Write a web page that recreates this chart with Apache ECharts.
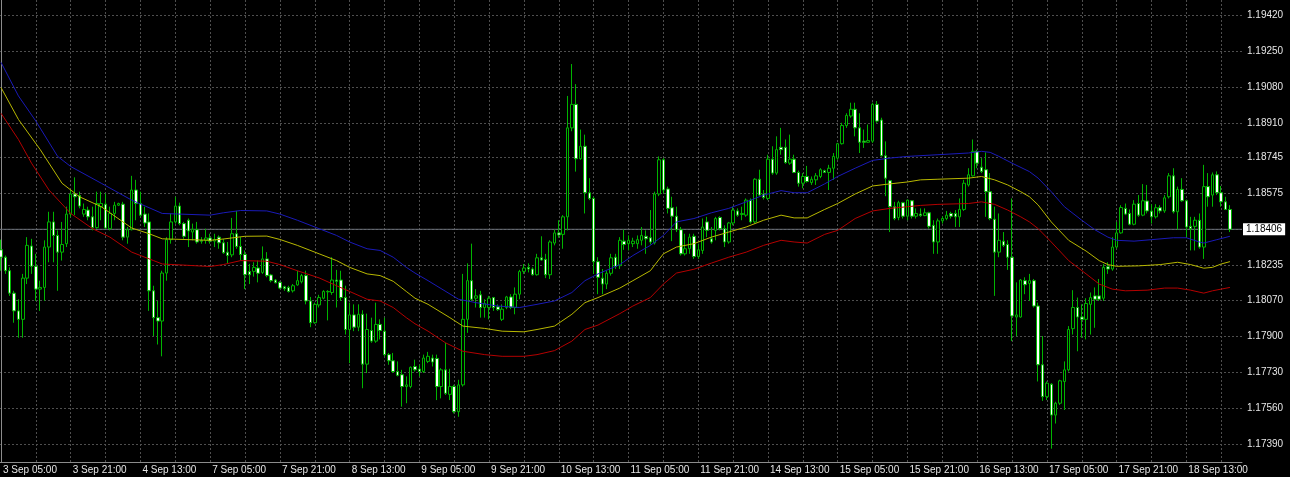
<!DOCTYPE html>
<html><head><meta charset="utf-8">
<script src="https://cdn.jsdelivr.net/npm/echarts@6/dist/echarts.min.js"></script>
<style>html,body{margin:0;padding:0;background:#000;} #chart{width:1290px;height:477px;}</style>
</head><body><div id="chart"></div>
<script>
// ---- data ----
const tickLabels = ["3 Sep 05:00","3 Sep 21:00","4 Sep 13:00","7 Sep 05:00","7 Sep 21:00","8 Sep 13:00","9 Sep 05:00","9 Sep 21:00","10 Sep 13:00","11 Sep 05:00","11 Sep 21:00","14 Sep 13:00","15 Sep 05:00","15 Sep 21:00","16 Sep 13:00","17 Sep 05:00","17 Sep 21:00","18 Sep 13:00"];
const yLabelValues = [1.17390,1.17560,1.17730,1.17900,1.18070,1.18235,1.18575,1.18745,1.18910,1.19080,1.19250,1.19420];
const yGridValues = [1.17390,1.17560,1.17730,1.17900,1.18070,1.18235,1.18405,1.18575,1.18745,1.18910,1.19080,1.19250,1.19420];
const lastPrice = 1.18406;
// [open, close, low, high] per H1 bar, 3 Sep 05:00 .. 18 Sep 23:00
const ohlc = [
[1.18309,1.18274,1.18210,1.18357],[1.18274,1.18210,1.18195,1.18282],[1.18210,1.18104,1.18091,1.18226],[1.18104,1.18020,1.17964,1.18115],[1.18020,1.17980,1.17893,1.18075],
[1.17980,1.18175,1.17893,1.18195],[1.18175,1.18330,1.18147,1.18369],[1.18327,1.18231,1.18195,1.18361],[1.18231,1.18123,1.18067,1.18290],[1.18123,1.18131,1.18020,1.18163],
[1.18131,1.18322,1.18067,1.18354],[1.18322,1.18441,1.18250,1.18489],[1.18441,1.18377,1.18250,1.18489],[1.18377,1.18298,1.18115,1.18401],[1.18298,1.18334,1.18258,1.18441],
[1.18338,1.18478,1.18322,1.18513],[1.18478,1.18573,1.18465,1.18592],[1.18573,1.18560,1.18473,1.18652],[1.18566,1.18516,1.18505,1.18584],[1.18478,1.18500,1.18465,1.18528],
[1.18497,1.18465,1.18449,1.18513],[1.18465,1.18414,1.18401,1.18513],[1.18414,1.18528,1.18409,1.18584],[1.18513,1.18528,1.18449,1.18584],[1.18525,1.18412,1.18409,1.18576],
[1.18409,1.18481,1.18401,1.18513],[1.18481,1.18520,1.18449,1.18536],[1.18520,1.18528,1.18516,1.18532],[1.18525,1.18369,1.18354,1.18536],[1.18369,1.18404,1.18338,1.18417],
[1.18404,1.18592,1.18401,1.18659],[1.18592,1.18528,1.18449,1.18640],[1.18528,1.18473,1.18465,1.18584],[1.18478,1.18436,1.18417,1.18513],[1.18441,1.18115,1.18020,1.18481],
[1.18115,1.17988,1.17901,1.18139],[1.17988,1.17972,1.17861,1.18067],[1.17972,1.18199,1.17805,1.18210],[1.18199,1.18357,1.18163,1.18369],[1.18357,1.18441,1.18338,1.18481],
[1.18441,1.18516,1.18433,1.18560],[1.18516,1.18433,1.18425,1.18532],[1.18433,1.18373,1.18361,1.18441],[1.18449,1.18398,1.18322,1.18457],[1.18393,1.18406,1.18354,1.18433],
[1.18404,1.18346,1.18338,1.18441],[1.18354,1.18350,1.18338,1.18369],[1.18354,1.18365,1.18338,1.18409],[1.18365,1.18350,1.18338,1.18385],[1.18350,1.18358,1.18322,1.18385],
[1.18369,1.18342,1.18314,1.18377],[1.18342,1.18295,1.18290,1.18361],[1.18298,1.18282,1.18245,1.18346],[1.18285,1.18385,1.18274,1.18460],[1.18385,1.18325,1.18314,1.18493],
[1.18325,1.18287,1.18258,1.18369],[1.18287,1.18191,1.18123,1.18306],[1.18206,1.18191,1.18147,1.18242],[1.18207,1.18226,1.18182,1.18250],[1.18223,1.18198,1.18155,1.18258],
[1.18202,1.18266,1.18195,1.18325],[1.18266,1.18187,1.18179,1.18298],[1.18190,1.18163,1.18155,1.18195],[1.18166,1.18153,1.18150,1.18171],[1.18155,1.18128,1.18123,1.18160],
[1.18134,1.18125,1.18115,1.18139],[1.18131,1.18112,1.18107,1.18139],[1.18115,1.18139,1.18107,1.18147],[1.18143,1.18163,1.18139,1.18210],[1.18158,1.18187,1.18150,1.18195],
[1.18187,1.18067,1.18051,1.18210],[1.18067,1.17964,1.17943,1.18086],[1.17964,1.18051,1.17959,1.18059],[1.18048,1.18083,1.18036,1.18096],[1.18080,1.18112,1.18075,1.18118],
[1.18112,1.18110,1.17975,1.18118],[1.18107,1.18166,1.18096,1.18274],[1.18166,1.18160,1.18036,1.18214],[1.18166,1.18083,1.18067,1.18210],[1.18083,1.17932,1.17908,1.18139],
[1.17932,1.18001,1.17773,1.18059],[1.18001,1.17943,1.17924,1.18051],[1.17943,1.18004,1.17924,1.18051],[1.18004,1.17768,1.17654,1.18023],[1.17768,1.17932,1.17726,1.18007],
[1.17927,1.17877,1.17869,1.17988],[1.17877,1.17956,1.17869,1.18059],[1.17956,1.17927,1.17885,1.17980],[1.17924,1.17813,1.17805,1.17988],[1.17813,1.17784,1.17765,1.17821],
[1.17784,1.17733,1.17726,1.17821],[1.17733,1.17715,1.17710,1.17781],[1.17718,1.17662,1.17567,1.17741],[1.17662,1.17670,1.17583,1.17710],[1.17662,1.17753,1.17654,1.17757],
[1.17757,1.17741,1.17733,1.17789],[1.17745,1.17733,1.17710,1.17765],[1.17733,1.17797,1.17726,1.17813],[1.17781,1.17805,1.17773,1.17826],[1.17797,1.17778,1.17757,1.17813],
[1.17795,1.17662,1.17598,1.17813],[1.17662,1.17741,1.17606,1.17749],[1.17741,1.17630,1.17622,1.17869],[1.17625,1.17662,1.17598,1.17746],[1.17662,1.17543,1.17535,1.17670],
[1.17543,1.17670,1.17519,1.17694],[1.17670,1.17980,1.17662,1.18195],[1.17980,1.18163,1.17916,1.18245],[1.18163,1.18075,1.18067,1.18338],[1.18080,1.18091,1.18036,1.18123],
[1.18096,1.18036,1.17988,1.18115],[1.18036,1.18055,1.17988,1.18075],[1.18036,1.18080,1.17980,1.18091],[1.18083,1.18036,1.18020,1.18086],[1.18039,1.18026,1.18020,1.18051],
[1.17980,1.18028,1.17972,1.18051],[1.18036,1.18086,1.18028,1.18091],[1.18086,1.18036,1.18028,1.18099],[1.18036,1.18099,1.18004,1.18131],[1.18099,1.18206,1.18075,1.18214],
[1.18207,1.18223,1.18195,1.18242],[1.18226,1.18218,1.18202,1.18245],[1.18218,1.18191,1.18187,1.18226],[1.18191,1.18271,1.18187,1.18290],[1.18271,1.18261,1.18258,1.18373],
[1.18264,1.18191,1.18175,1.18290],[1.18191,1.18346,1.18171,1.18354],[1.18341,1.18389,1.18330,1.18404],[1.18389,1.18379,1.18366,1.18449],[1.18382,1.18465,1.18314,1.18473],
[1.18465,1.18886,1.18401,1.19037],[1.18886,1.18997,1.18870,1.19188],[1.18997,1.18740,1.18679,1.19093],[1.18740,1.18799,1.18735,1.18878],[1.18799,1.18579,1.18481,1.18854],
[1.18579,1.18552,1.18544,1.18648],[1.18552,1.18253,1.18195,1.18560],[1.18253,1.18179,1.18099,1.18274],[1.18175,1.18147,1.18099,1.18218],[1.18147,1.18198,1.18123,1.18210],
[1.18198,1.18271,1.18187,1.18290],[1.18274,1.18230,1.18218,1.18290],[1.18234,1.18354,1.18218,1.18369],[1.18350,1.18334,1.18309,1.18404],[1.18338,1.18354,1.18306,1.18377],
[1.18338,1.18350,1.18322,1.18366],[1.18338,1.18357,1.18314,1.18377],[1.18354,1.18377,1.18330,1.18417],[1.18373,1.18361,1.18290,1.18401],[1.18366,1.18346,1.18334,1.18497],
[1.18342,1.18573,1.18334,1.18584],[1.18573,1.18735,1.18563,1.18751],[1.18735,1.18592,1.18576,1.18743],[1.18597,1.18505,1.18481,1.18608],[1.18508,1.18468,1.18350,1.18560],
[1.18468,1.18404,1.18393,1.18513],[1.18404,1.18290,1.18282,1.18417],[1.18290,1.18314,1.18282,1.18385],[1.18314,1.18369,1.18290,1.18385],[1.18373,1.18277,1.18266,1.18385],
[1.18277,1.18309,1.18266,1.18338],[1.18306,1.18417,1.18290,1.18457],[1.18441,1.18401,1.18369,1.18465],[1.18361,1.18346,1.18338,1.18417],[1.18401,1.18457,1.18354,1.18465],
[1.18462,1.18409,1.18401,1.18468],[1.18409,1.18346,1.18322,1.18425],[1.18346,1.18436,1.18338,1.18441],[1.18436,1.18497,1.18425,1.18513],[1.18493,1.18473,1.18465,1.18505],
[1.18476,1.18481,1.18449,1.18513],[1.18473,1.18544,1.18465,1.18552],[1.18544,1.18441,1.18433,1.18552],[1.18441,1.18643,1.18433,1.18648],[1.18643,1.18568,1.18560,1.18688],
[1.18573,1.18557,1.18547,1.18592],[1.18552,1.18738,1.18544,1.18759],[1.18738,1.18672,1.18664,1.18799],[1.18672,1.18783,1.18664,1.18846],[1.18794,1.18783,1.18759,1.18886],
[1.18794,1.18722,1.18716,1.18831],[1.18719,1.18738,1.18711,1.18854],[1.18738,1.18675,1.18672,1.18759],[1.18675,1.18624,1.18608,1.18684],[1.18624,1.18656,1.18600,1.18672],
[1.18656,1.18632,1.18627,1.18706],[1.18627,1.18643,1.18616,1.18656],[1.18640,1.18659,1.18616,1.18672],[1.18656,1.18688,1.18648,1.18695],[1.18683,1.18675,1.18672,1.18688],
[1.18675,1.18695,1.18592,1.18711],[1.18695,1.18751,1.18640,1.18767],[1.18743,1.18811,1.18735,1.18815],[1.18811,1.18897,1.18807,1.18910],[1.18897,1.18945,1.18886,1.18955],
[1.18942,1.18974,1.18934,1.19005],[1.18974,1.18886,1.18846,1.19005],[1.18886,1.18818,1.18767,1.18955],[1.18823,1.18818,1.18791,1.18878],[1.18818,1.18826,1.18815,1.18902],
[1.18823,1.18997,1.18815,1.19005],[1.18997,1.18918,1.18910,1.19013],[1.18923,1.18754,1.18751,1.18934],[1.18754,1.18648,1.18563,1.18822],[1.18636,1.18513,1.18393,1.18640],
[1.18513,1.18457,1.18449,1.18536],[1.18462,1.18532,1.18449,1.18541],[1.18532,1.18468,1.18457,1.18536],[1.18468,1.18544,1.18449,1.18547],[1.18541,1.18468,1.18457,1.18544],
[1.18468,1.18481,1.18457,1.18505],[1.18478,1.18471,1.18465,1.18505],[1.18471,1.18484,1.18468,1.18505],[1.18484,1.18420,1.18409,1.18489],[1.18425,1.18346,1.18290,1.18449],
[1.18346,1.18446,1.18290,1.18457],[1.18446,1.18457,1.18433,1.18468],[1.18457,1.18473,1.18449,1.18493],[1.18481,1.18468,1.18457,1.18489],[1.18481,1.18465,1.18417,1.18497],
[1.18465,1.18500,1.18417,1.18552],[1.18500,1.18624,1.18493,1.18640],[1.18616,1.18664,1.18608,1.18695],[1.18659,1.18775,1.18656,1.18831],[1.18775,1.18719,1.18695,1.18783],
[1.18700,1.18680,1.18672,1.18743],[1.18688,1.18584,1.18465,1.18770],[1.18584,1.18457,1.18449,1.18672],[1.18454,1.18298,1.18091,1.18513],[1.18298,1.18354,1.18274,1.18481],
[1.18350,1.18330,1.18322,1.18393],[1.18334,1.18274,1.18214,1.18354],[1.18274,1.17996,1.17877,1.18552],[1.17991,1.18001,1.17901,1.18155],[1.17991,1.18166,1.17988,1.18171],
[1.18163,1.18144,1.18099,1.18179],[1.18150,1.18163,1.18067,1.18195],[1.18163,1.18043,1.18036,1.18171],[1.18043,1.17765,1.17686,1.18059],[1.17765,1.17614,1.17594,1.17901],
[1.17614,1.17678,1.17598,1.17686],[1.17673,1.17527,1.17368,1.17678],[1.17527,1.17583,1.17487,1.17590],[1.17583,1.17689,1.17575,1.17694],[1.17686,1.17741,1.17551,1.17781],
[1.17741,1.17932,1.17733,1.17948],[1.17936,1.18036,1.17908,1.18118],[1.18036,1.17991,1.17829,1.18083],[1.17991,1.17980,1.17893,1.18051],[1.17980,1.18055,1.17885,1.18080],
[1.18051,1.18083,1.17908,1.18107],[1.18091,1.18075,1.17940,1.18131],[1.18091,1.18075,1.18067,1.18171],[1.18080,1.18226,1.18067,1.18242],[1.18229,1.18218,1.18195,1.18250],
[1.18218,1.18322,1.18210,1.18369],[1.18322,1.18389,1.18314,1.18441],[1.18389,1.18509,1.18385,1.18520],[1.18505,1.18478,1.18473,1.18528],[1.18481,1.18430,1.18425,1.18500],
[1.18430,1.18525,1.18425,1.18544],[1.18528,1.18473,1.18465,1.18568],[1.18473,1.18541,1.18468,1.18620],[1.18540,1.18493,1.18481,1.18616],[1.18492,1.18465,1.18433,1.18525],
[1.18465,1.18508,1.18457,1.18525],[1.18508,1.18493,1.18481,1.18520],[1.18493,1.18555,1.18484,1.18568],[1.18560,1.18659,1.18552,1.18672],[1.18659,1.18489,1.18481,1.18695],
[1.18489,1.18595,1.18404,1.18608],[1.18595,1.18541,1.18536,1.18648],[1.18541,1.18417,1.18369,1.18547],[1.18420,1.18409,1.18306,1.18465],[1.18420,1.18449,1.18306,1.18465],
[1.18449,1.18322,1.18314,1.18481],[1.18322,1.18608,1.18266,1.18711],[1.18608,1.18560,1.18513,1.18672],[1.18568,1.18664,1.18513,1.18675],[1.18664,1.18579,1.18568,1.18680],
[1.18579,1.18536,1.18513,1.18611],[1.18536,1.18500,1.18497,1.18560],[1.18500,1.18406,1.18393,1.18520]
];
// envelope lines: [bar index, price]
const envUpper = [[0,1.19196],[4,1.19037],[8,1.18918],[13,1.18751],[16,1.18703],[23,1.18624],[30,1.18544],[37,1.18481],[48,1.18473],[51,1.18484],[55,1.18495],[61,1.18493],[64,1.18478],[68,1.18449],[73,1.18409],[77,1.18377],[80,1.18346],[84,1.18314],[87,1.18306],[90,1.18274],[93,1.18226],[95,1.18199],[98,1.18163],[105,1.18075],[109,1.18059],[114,1.18043],[119,1.18036],[123,1.18051],[127,1.18067],[131,1.18107],[134,1.18163],[137,1.18195],[142,1.18239],[145,1.18282],[149,1.18330],[152,1.18377],[155,1.18441],[159,1.18457],[163,1.18484],[167,1.18505],[171,1.18536],[175,1.18568],[179,1.18589],[182,1.18579],[185,1.18579],[189,1.18621],[192,1.18656],[196,1.18695],[200,1.18732],[204,1.18743],[208,1.18751],[215,1.18759],[222,1.18767],[225,1.18775],[227,1.18770],[229,1.18751],[232,1.18719],[236,1.18679],[238,1.18648],[241,1.18584],[244,1.18513],[248,1.18449],[251,1.18404],[254,1.18369],[256,1.18354],[260,1.18350],[264,1.18357],[269,1.18366],[272,1.18366],[275,1.18346],[276,1.18341],[279,1.18357],[282,1.18373]];
const maMiddle = [[0,1.19077],[4,1.18926],[9,1.18783],[14,1.18624],[18,1.18560],[23,1.18513],[30,1.18412],[34,1.18385],[37,1.18361],[48,1.18354],[51,1.18360],[56,1.18373],[61,1.18374],[64,1.18358],[68,1.18330],[73,1.18290],[77,1.18258],[80,1.18226],[84,1.18195],[87,1.18187],[90,1.18160],[93,1.18112],[95,1.18080],[98,1.18051],[103,1.17988],[106,1.17948],[111,1.17937],[115,1.17924],[120,1.17921],[123,1.17932],[127,1.17948],[131,1.18004],[134,1.18059],[137,1.18083],[142,1.18128],[145,1.18163],[149,1.18210],[152,1.18290],[155,1.18322],[159,1.18338],[163,1.18369],[167,1.18393],[171,1.18417],[175,1.18449],[179,1.18473],[182,1.18460],[185,1.18460],[189,1.18500],[192,1.18528],[196,1.18573],[200,1.18611],[204,1.18621],[208,1.18630],[211,1.18640],[215,1.18643],[222,1.18648],[225,1.18656],[228,1.18640],[231,1.18616],[234,1.18584],[236,1.18560],[238,1.18521],[241,1.18441],[245,1.18354],[249,1.18303],[252,1.18258],[254,1.18239],[256,1.18231],[261,1.18233],[266,1.18239],[270,1.18250],[273,1.18239],[276,1.18222],[278,1.18226],[280,1.18242],[282,1.18253]];
const envLower = [[0,1.18955],[4,1.18831],[7,1.18719],[11,1.18592],[16,1.18481],[21,1.18409],[25,1.18369],[30,1.18298],[35,1.18258],[37,1.18242],[48,1.18230],[51,1.18239],[55,1.18258],[61,1.18255],[64,1.18239],[68,1.18210],[73,1.18176],[77,1.18139],[80,1.18112],[84,1.18075],[87,1.18067],[90,1.18036],[93,1.17988],[95,1.17959],[98,1.17924],[102,1.17869],[106,1.17829],[111,1.17813],[115,1.17805],[120,1.17805],[123,1.17813],[127,1.17832],[131,1.17877],[134,1.17932],[137,1.17953],[142,1.18007],[145,1.18043],[149,1.18083],[152,1.18147],[155,1.18199],[159,1.18217],[163,1.18246],[167,1.18274],[171,1.18298],[175,1.18330],[179,1.18354],[182,1.18346],[185,1.18341],[189,1.18382],[192,1.18401],[196,1.18457],[200,1.18493],[204,1.18505],[208,1.18513],[211,1.18519],[215,1.18524],[222,1.18528],[225,1.18536],[228,1.18524],[231,1.18497],[234,1.18465],[236,1.18441],[238,1.18409],[241,1.18346],[245,1.18258],[249,1.18195],[252,1.18147],[255,1.18123],[258,1.18115],[263,1.18118],[267,1.18128],[270,1.18128],[273,1.18118],[276,1.18104],[278,1.18115],[280,1.18123],[282,1.18131]];

// ---- chart ----
const barsPerLabel = 16, barsPerGrid = 8;
const xMin = -0.23, xMax = 284.77;
const xLabelPos = tickLabels.map((_, k) => k * barsPerLabel);
const xGridPos = [];
for (let k = 0; k < ohlc.length; k += barsPerGrid) xGridPos.push(k);
const candleData = ohlc.map((r, i) => [i, r[0], r[1], r[2], r[3]]);
const priceLine = [[xMin, lastPrice], [xMax, lastPrice]];

const font = 'Liberation Sans, Arial, sans-serif';
const gridLine = { show: true, lineStyle: { color: '#4e4e4e', width: 1, type: [2, 2] } };
const chart = echarts.init(document.getElementById('chart'));
chart.setOption({
  backgroundColor: '#000000',
  animation: false,
  grid: { left: 0, right: 48, top: 0, bottom: 15 },
  xAxis: {
    type: 'value', min: xMin, max: xMax,
    axisLine: { show: true, lineStyle: { color: '#8c8c8c', width: 1 } },
    axisTick: { show: false, customValues: xGridPos },
    axisLabel: { customValues: xLabelPos, formatter: v => tickLabels[Math.round(v / barsPerLabel)],
      align: 'left', margin: 3, padding: [0, 0, 0, 2], color: '#e6e6e6', fontSize: 10, fontFamily: font },
    splitLine: gridLine
  },
  yAxis: {
    type: 'value', position: 'right', min: 1.17305, max: 1.19491,
    axisLine: { show: true, lineStyle: { color: '#8c8c8c', width: 1 } },
    axisTick: { show: false, customValues: yGridValues },
    axisLabel: { customValues: yLabelValues, formatter: v => v.toFixed(5),
      margin: 5, color: '#e6e6e6', fontSize: 10, fontFamily: font },
    splitLine: gridLine
  },
  series: [
    { type: 'line', data: priceLine, symbol: 'none', silent: true, z: 1,
      lineStyle: { color: '#6a6f78', width: 1 },
      endLabel: { show: true, distance: 1, formatter: () => lastPrice.toFixed(5), color: '#000000',
        backgroundColor: '#ffffff', padding: [1, 3, 1, 3], fontSize: 10, fontFamily: font }
    },
    {
      type: 'candlestick', data: candleData, barWidth: 3, z: 2,
      itemStyle: { color: '#000000', color0: '#ffffff', borderColor: '#00b400', borderColor0: '#00b400', borderWidth: 1 }
    },
    { type: 'line', data: envUpper, symbol: 'none', lineStyle: { color: '#1a1ab8', width: 1 }, silent: true, z: 3 },
    { type: 'line', data: maMiddle, symbol: 'none', lineStyle: { color: '#b8b800', width: 1 }, silent: true, z: 3 },
    { type: 'line', data: envLower, symbol: 'none', lineStyle: { color: '#b40000', width: 1 }, silent: true, z: 3 }
  ]
});
</script></body></html>
